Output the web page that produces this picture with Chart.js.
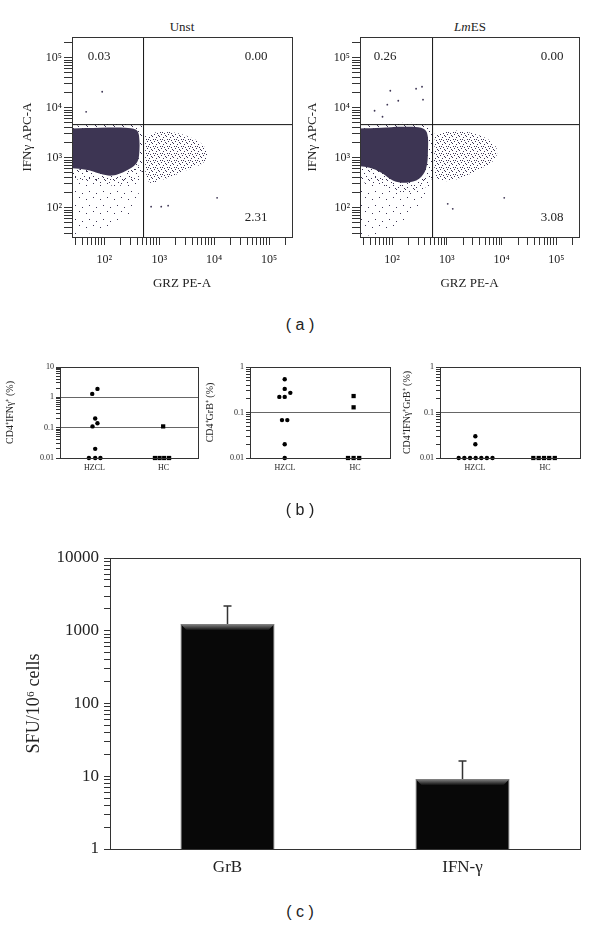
<!DOCTYPE html>
<html>
<head>
<meta charset="utf-8">
<script src="https://cdn.jsdelivr.net/npm/chart.js@4.4.1/dist/chart.umd.min.js"></script>
<style>
  body { margin: 0; background: #fff; width: 600px; height: 929px; position: relative; overflow: hidden; }
  canvas { position: absolute; }
  .panel { position: absolute; width: 80px; margin-left: -40px; text-align: center; font: 16px/18px "Liberation Sans", Arial, sans-serif; color: #222; white-space: pre; }
  .ttl { position: absolute; width: 100px; margin-left: -50px; text-align: center; font: 13px/14px "Liberation Serif", serif; color: #222; }
</style>
</head>
<body>
<div class="ttl" style="left:182px;top:20px">Unst</div>
<div class="ttl" style="left:470px;top:20px"><i>Lm</i>ES</div>
<canvas id="unst" width="300" height="300" style="left:0;top:0"></canvas>
<canvas id="lmes" width="300" height="300" style="left:300px;top:0"></canvas>
<div class="panel" style="left:300px;top:316px">( a )</div>

<canvas id="dot1" width="202" height="125" style="left:0;top:355px"></canvas>
<canvas id="dot2" width="202" height="125" style="left:200px;top:355px"></canvas>
<canvas id="dot3" width="202" height="125" style="left:400px;top:355px"></canvas>
<div class="panel" style="left:300px;top:501px">( b )</div>

<canvas id="sfu" width="600" height="360" style="left:0;top:530px"></canvas>
<div class="panel" style="left:300px;top:903px">( c )</div>

<script>
// ---------- (a) flow plots: GRZ PE-A (x) vs IFNγ APC-A (y) ----------
const flowMin = 26, flowMax = 260000;
const unstGate = [520, 4600];
const lmesGate = [550, 4600];
const unstQuad = ["0.03", "0.00", "2.31"];
const lmesQuad = ["0.26", "0.00", "3.08"];

// outline of the dense GRZ- population
const unstCoreX = [20, 85, 240, 380, 430, 430, 380, 250, 140, 85, 47, 20];
const unstCoreY = [3800, 3980, 3980, 3630, 2750, 1100, 760, 550, 440, 480, 575, 630];
const lmesCoreX = [20, 64, 147, 339, 435, 453, 417, 312, 182, 106, 64, 39, 20];
const lmesCoreY = [3800, 3980, 4170, 3980, 3160, 1380, 603, 380, 316, 347, 501, 631, 692];
// events just around it
const unstNearX = [20, 471, 490, 490, 366, 195, 85, 47, 20];
const unstNearY = [4365, 4365, 2190, 603, 347, 275, 302, 347, 380];
const lmesNearX = [20, 514, 536, 514, 312, 147, 64, 20];
const lmesNearY = [4365, 4365, 1380, 347, 219, 200, 275, 347];
// thin tail below it
const unstTailX = [20, 451, 415, 273, 128, 47, 20];
const unstTailY = [550, 692, 174, 69, 38, 30, 26];
const lmesTailX = [20, 514, 473, 275, 120, 52, 20];
const lmesTailY = [437, 437, 174, 87, 44, 30, 26];
// GRZ+ cluster
const unstPosX = [556, 1042, 2410, 5560, 7460, 6310, 2970, 1285, 686, 556];
const unstPosY = [2750, 3310, 3020, 2000, 1260, 794, 550, 380, 316, 550];
const lmesPosX = [607, 1180, 2715, 6250, 8360, 7080, 4120, 2210, 1180, 659, 582];
const lmesPosY = [2750, 3470, 3160, 2190, 1380, 871, 603, 437, 347, 380, 871];
// single events
const unstOutX = [92, 47, 11300, 1090, 1455, 714];
const unstOutY = [20900, 8300, 158, 105, 110, 105];
const lmesOutX = [93, 130, 275, 353, 368, 82, 48, 67, 11200, 1040, 1285];
const lmesOutY = [21900, 13800, 24000, 26300, 14500, 11500, 8700, 6600, 158, 120, 95];

// ---------- (b) dot plots ----------
const groupNames = ["HZCL", "HC"];
const groupPos = [1, 2];
const ifnHzX = [1.043, 0.967, 1.01, 1.043, 0.971, 1.01, 0.919, 1.01, 1.086];
const ifnHzY = [1.9, 1.3, 0.2, 0.14, 0.11, 0.02, 0.01, 0.01, 0.01];
const ifnHcX = [1.995, 1.876, 1.943, 2.01, 2.081];
const ifnHcY = [0.11, 0.01, 0.01, 0.01, 0.01];
const grbHzX = [0.996, 0.996, 1.076, 0.919, 0.996, 0.957, 1.033, 0.996, 0.996];
const grbHzY = [0.54, 0.33, 0.27, 0.22, 0.22, 0.068, 0.068, 0.02, 0.01];
const grbHcX = [1.98, 1.98, 1.9, 1.98, 2.06];
const grbHcY = [0.23, 0.13, 0.01, 0.01, 0.01];
const dblHzX = [1.005, 1.005, 0.767, 0.848, 0.929, 1.01, 1.09, 1.17, 1.25];
const dblHzY = [0.03, 0.02, 0.01, 0.01, 0.01, 0.01, 0.01, 0.01, 0.01];
const dblHcX = [1.833, 1.91, 1.986, 2.06, 2.14];
const dblHcY = [0.01, 0.01, 0.01, 0.01, 0.01];

// ---------- (c) ELISpot ----------
const sfuLabels = ["GrB", "IFN-γ"];
const sfuMean = [1240, 9.2];
const sfuSD = [950, 7];

// ---------- helpers ----------
const SERIF = '"Liberation Serif", "Times New Roman", serif';
const INK = "#222";
const CLOUD = "#3d3553";
const SUP = { "0": "⁰", "1": "¹", "2": "²", "3": "³", "4": "⁴", "5": "⁵", "6": "⁶", "7": "⁷", "8": "⁸", "9": "⁹" };

function isPow10(v) { const l = Math.log10(v); return Math.abs(l - Math.round(l)) < 1e-6; }
function logTicks(min, max) {
  const out = [];
  for (let e = Math.floor(Math.log10(min)); e <= Math.ceil(Math.log10(max)); e++) {
    for (let m = 1; m < 10; m++) {
      const v = Number((m * Math.pow(10, e)).toPrecision(3));
      if (v >= min * 0.999 && v <= max * 1.001) out.push({ value: v });
    }
  }
  return out;
}
const xy = (xs, ys) => xs.map((x, i) => ({ x: x, y: ys[i] }));

// dotted textures for the less dense regions
function stipple(size, dots) {
  const c = document.createElement("canvas");
  c.width = c.height = size;
  const g = c.getContext("2d");
  g.fillStyle = CLOUD;
  dots.forEach(d => g.fillRect(d[0], d[1], 1, 1));
  return g.createPattern(c, "repeat");
}
const tailFill = stipple(14, [[2, 3], [9, 1], [5, 9], [12, 11]]);
const nearFill = stipple(9, [[1, 2], [6, 0], [3, 5], [8, 7], [5, 8]]);
const posFill = stipple(7, [[0, 1], [3, 0], [5, 3], [2, 4], [6, 6], [1, 6], [4, 2]]);

const framePlugin = {
  id: "frame",
  afterDatasetsDraw(chart) {
    const { ctx, chartArea: a } = chart;
    ctx.save();
    ctx.strokeStyle = "#333";
    ctx.lineWidth = 1;
    ctx.strokeRect(Math.round(a.left) + 0.5, Math.round(a.top) + 0.5, Math.round(a.right - a.left), Math.round(a.bottom - a.top));
    ctx.restore();
  }
};

const quadPlugin = {
  id: "quad",
  afterDraw(chart, args, o) {
    if (!o.texts) return;
    const { ctx, chartArea: a } = chart;
    ctx.save();
    ctx.font = "13px " + SERIF;
    ctx.fillStyle = INK;
    ctx.textAlign = "center";
    ctx.textBaseline = "middle";
    ctx.fillText(o.texts[0], a.left + o.left, a.top + 20);
    ctx.fillText(o.texts[1], a.right - o.right, a.top + 20);
    ctx.fillText(o.texts[2], a.right - o.right, a.bottom - 19);
    ctx.restore();
  }
};

// ---------- (a) ----------
function flowChart(id, o) {
  const shape = (xs, ys, fill, order) => ({
    data: xy(xs, ys), showLine: true, fill: "shape", tension: 0.35,
    backgroundColor: fill, borderWidth: 0, pointRadius: 0, order: order
  });
  new Chart(document.getElementById(id), {
    type: "scatter",
    data: {
      datasets: [
        { data: [{ x: o.gate[0], y: 1 }, { x: o.gate[0], y: 1e6 }], showLine: true, borderColor: "#111", borderWidth: 1, pointRadius: 0, order: 0 },
        { data: [{ x: 1, y: o.gate[1] }, { x: 1e6, y: o.gate[1] }], showLine: true, borderColor: "#111", borderWidth: 1, pointRadius: 0, order: 0 },
        { data: xy(o.outX, o.outY), pointRadius: 0.9, backgroundColor: CLOUD, borderWidth: 0, order: 1 },
        shape(o.coreX, o.coreY, CLOUD, 2),
        shape(o.posX, o.posY, posFill, 3),
        shape(o.nearX, o.nearY, nearFill, 4),
        shape(o.tailX, o.tailY, tailFill, 5)
      ]
    },
    options: {
      responsive: false, animation: false, events: [],
      layout: { padding: { top: 37, right: o.padRight, left: 0, bottom: 0 } },
      plugins: { legend: { display: false }, tooltip: { enabled: false }, quad: { texts: o.quad, left: o.qLeft, right: o.qRight } },
      scales: {
        x: {
          type: "logarithmic", min: flowMin, max: flowMax,
          afterBuildTicks: s => { s.ticks = logTicks(flowMin, flowMax); },
          afterFit: s => { s.height = 63; },
          ticks: { autoSkip: false, maxRotation: 0, padding: 8, color: INK, font: { family: SERIF, size: 12 },
            callback: v => isPow10(v) ? "10" + SUP[Math.round(Math.log10(v))] : "" },
          grid: { drawOnChartArea: false, tickLength: 8, color: "#333" },
          border: { color: "#333" },
          title: { display: true, text: "GRZ PE-A", color: INK, font: { family: SERIF, size: 13 }, padding: { top: 0, bottom: 9 } }
        },
        y: {
          type: "logarithmic", min: flowMin, max: flowMax,
          afterBuildTicks: s => { s.ticks = logTicks(flowMin, flowMax); },
          afterFit: s => { s.width = o.axisW; },
          ticks: { autoSkip: false, padding: 2, color: INK, font: { family: SERIF, size: 12 },
            callback: v => isPow10(v) ? "10" + SUP[Math.round(Math.log10(v))] : "" },
          grid: { drawOnChartArea: false, tickLength: 8, color: "#333" },
          border: { color: "#333" },
          title: { display: true, text: "IFNγ APC-A", color: INK, font: { family: SERIF, size: 13 }, padding: { top: o.titlePad, bottom: 0 } }
        }
      }
    },
    plugins: [framePlugin, quadPlugin]
  });
}

flowChart("unst", {
  gate: unstGate, quad: unstQuad, qLeft: 27, qRight: 36, axisW: 72, padRight: 8, titlePad: 20,
  coreX: unstCoreX, coreY: unstCoreY, nearX: unstNearX, nearY: unstNearY, tailX: unstTailX, tailY: unstTailY,
  posX: unstPosX, posY: unstPosY, outX: unstOutX, outY: unstOutY
});
flowChart("lmes", {
  gate: lmesGate, quad: lmesQuad, qLeft: 25, qRight: 27, axisW: 60, padRight: 21, titlePad: 5,
  coreX: lmesCoreX, coreY: lmesCoreY, nearX: lmesNearX, nearY: lmesNearY, tailX: lmesTailX, tailY: lmesTailY,
  posX: lmesPosX, posY: lmesPosY, outX: lmesOutX, outY: lmesOutY
});

// ---------- (b) ----------
function dotChart(id, o) {
  new Chart(document.getElementById(id), {
    type: "scatter",
    data: {
      datasets: [
        { data: xy(o.hzX, o.hzY), pointStyle: "circle", pointRadius: 2.2, backgroundColor: "#000", borderWidth: 0, clip: false },
        { data: xy(o.hcX, o.hcY), pointStyle: "rect", pointRadius: 3, backgroundColor: "#000", borderWidth: 0, clip: false }
      ]
    },
    options: {
      responsive: false, animation: false, events: [],
      layout: { padding: { top: 12, right: o.padRight, left: 0, bottom: 0 } },
      plugins: { legend: { display: false }, tooltip: { enabled: false } },
      scales: {
        x: {
          type: "linear", min: 0.5, max: 2.5,
          afterBuildTicks: s => { s.ticks = groupPos.map(v => ({ value: v })); },
          afterFit: s => { s.height = 22; },
          ticks: { autoSkip: false, maxRotation: 0, padding: 5, color: INK, font: { family: SERIF, size: 8 },
            callback: (v, i) => groupNames[i] },
          grid: { display: false, drawTicks: false },
          border: { color: "#333" }
        },
        y: {
          type: "logarithmic", min: o.min, max: o.max,
          afterBuildTicks: s => { s.ticks = logTicks(o.min, o.max); },
          afterFit: s => { s.width = o.axisW; },
          ticks: { autoSkip: false, padding: 2, color: INK, font: { family: SERIF, size: 8 },
            callback: v => isPow10(v) ? String(Number(v.toPrecision(1))) : "" },
          grid: {
            color: c => (c.tick && isPow10(c.tick.value)) ? "#666" : "rgba(0,0,0,0)",
            tickColor: "#333", tickLength: 4
          },
          border: { color: "#333" },
          title: { display: true, text: o.title, color: INK, font: { family: SERIF, size: 10 }, padding: { top: o.titlePad, bottom: 0 } }
        }
      }
    },
    plugins: [framePlugin]
  });
}

dotChart("dot1", { hzX: ifnHzX, hzY: ifnHzY, hcX: ifnHcX, hcY: ifnHcY, min: 0.01, max: 10,
  axisW: 60, padRight: 2, titlePad: 4, title: "CD4⁺IFNγ⁺ (%)" });
dotChart("dot2", { hzX: grbHzX, hzY: grbHzY, hcX: grbHcX, hcY: grbHcY, min: 0.01, max: 1,
  axisW: 50, padRight: 12, titlePad: 4, title: "CD4⁺GrB⁺ (%)" });
dotChart("dot3", { hzX: dblHzX, hzY: dblHzY, hcX: dblHcX, hcY: dblHcY, min: 0.01, max: 1,
  axisW: 40, padRight: 22, titlePad: 1, title: "CD4⁺IFNγ⁺GrB⁺ (%)" });

// ---------- (c) ----------
const bevelPlugin = {
  id: "bevel",
  afterDatasetsDraw(chart) {
    const ctx = chart.ctx;
    chart.getDatasetMeta(0).data.forEach(bar => {
      const l = bar.x - bar.width / 2, r = bar.x + bar.width / 2, t = bar.y;
      const g = ctx.createLinearGradient(0, t, 0, t + 6);
      g.addColorStop(0, "#8a8a8a");
      g.addColorStop(1, "#141414");
      ctx.save();
      ctx.fillStyle = g;
      ctx.beginPath();
      ctx.moveTo(l, t); ctx.lineTo(r, t); ctx.lineTo(r - 6, t + 6); ctx.lineTo(l + 6, t + 6);
      ctx.closePath();
      ctx.fill();
      ctx.restore();
    });
  }
};

const errorPlugin = {
  id: "errors",
  afterDatasetsDraw(chart) {
    const ctx = chart.ctx, ys = chart.scales.y;
    chart.getDatasetMeta(0).data.forEach((bar, i) => {
      const top = ys.getPixelForValue(sfuMean[i] + sfuSD[i]);
      ctx.save();
      ctx.strokeStyle = "#333";
      ctx.lineWidth = 1.5;
      ctx.beginPath();
      ctx.moveTo(bar.x, bar.y); ctx.lineTo(bar.x, top);
      ctx.moveTo(bar.x - 4, top); ctx.lineTo(bar.x + 4, top);
      ctx.stroke();
      ctx.restore();
    });
  }
};

new Chart(document.getElementById("sfu"), {
  type: "bar",
  data: {
    labels: sfuLabels,
    datasets: [{ data: sfuMean, backgroundColor: "#080808", borderColor: "#6a6a6a", borderWidth: 1,
      barPercentage: 0.4, categoryPercentage: 1 }]
  },
  options: {
    responsive: false, animation: false, events: [],
    layout: { padding: { top: 28, right: 20, left: 0, bottom: 0 } },
    plugins: { legend: { display: false }, tooltip: { enabled: false } },
    scales: {
      x: {
        afterFit: s => { s.height = 41; },
        ticks: { padding: 8, color: INK, font: { family: SERIF, size: 17 } },
        grid: { display: false, drawTicks: false },
        border: { color: "#333" }
      },
      y: {
        type: "logarithmic", min: 1, max: 10000,
        afterBuildTicks: s => { s.ticks = logTicks(1, 10000); },
        afterFit: s => { s.width = 110; },
        ticks: { autoSkip: false, padding: 5, color: INK, font: { family: SERIF, size: 17 },
          callback: v => isPow10(v) ? String(Math.round(v)) : "" },
        grid: { drawOnChartArea: false, tickLength: 6, color: "#333" },
        border: { color: "#333" },
        title: { display: true, text: "SFU/10⁶ cells", color: INK, font: { family: SERIF, size: 18 }, padding: { top: 23, bottom: 0 } }
      }
    }
  },
  plugins: [framePlugin, bevelPlugin, errorPlugin]
});
</script>
</body>
</html>
